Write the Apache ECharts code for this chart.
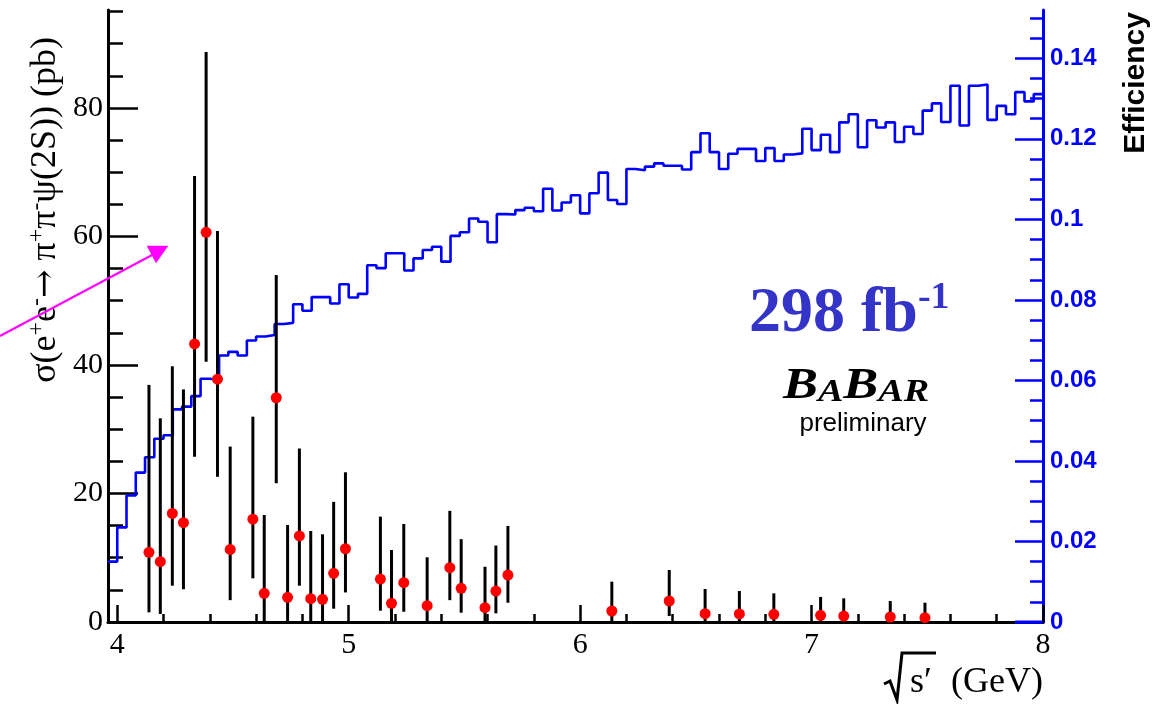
<!DOCTYPE html>
<html>
<head>
<meta charset="utf-8">
<script src="https://cdn.jsdelivr.net/npm/echarts@6/dist/echarts.min.js"></script>
<style>html,body{margin:0;padding:0;background:#fff}#c{width:1160px;height:704px}</style>
</head>
<body>
<div id="c"></div>
<script>
// ---- Data ----
// Efficiency histogram: 101 bins of width 0.04 GeV starting at 3.96 GeV
const histStart = 3.96;
const histBinWidth = 0.04;
const efficiency = [
  0.0150,0.0235,0.0314,0.0371,0.0409,0.0455,0.0464,0.0528,0.0535,0.0561,
  0.0604,0.0601,0.0662,0.0671,0.0662,0.0699,0.0709,0.0713,0.0740,0.0743,
  0.0789,0.0773,0.0807,0.0807,0.0791,0.0839,0.0806,0.0815,0.0886,0.0879,
  0.0916,0.0916,0.0873,0.0903,0.0924,0.0932,0.0895,0.0959,0.0968,0.1002,
  0.0994,0.0943,0.1013,0.1012,0.1023,0.1029,0.1020,0.1076,0.1022,0.1042,
  0.1060,0.1015,0.1065,0.1116,0.1048,0.1038,0.1125,0.1122,0.1131,0.1139,
  0.1133,0.1133,0.1124,0.1167,0.1214,0.1167,0.1125,0.1163,0.1175,0.1175,
  0.1145,0.1177,0.1145,0.1161,0.1164,0.1225,0.1172,0.1210,0.1167,0.1241,
  0.1261,0.1179,0.1246,0.1228,0.1241,0.1192,0.1230,0.1212,0.1270,0.1288,
  0.1242,0.1332,0.1233,0.1332,0.1335,0.1247,0.1282,0.1261,0.1316,0.1293,
  0.1311
];
// Cross section points (pb)
const ptX = [4.137,4.186,4.238,4.286,4.334,4.384,4.433,4.488,4.586,4.635,4.687,4.736,4.787,4.836,4.887,4.935,4.986,
             5.137,5.185,5.238,5.339,5.437,5.486,5.589,5.636,5.688,6.137,6.385,6.540,6.688,6.837,7.039,7.139,7.340,7.490];
const ptY = [10.85,9.39,16.9,15.46,43.27,60.65,37.8,11.3,16.0,4.46,34.9,3.84,13.4,3.63,3.53,7.58,11.4,
             6.69,2.9,6.12,2.54,8.45,5.24,2.23,4.82,7.3,1.71,3.27,1.3,1.25,1.2,1.04,0.93,0.78,0.67];
const errHi = [36.9,31.7,39.8,36.2,69.4,88.7,60.85,27.3,31.96,16.65,54.0,15.1,27.0,14.16,13.65,18.7,23.3,
               16.4,11.2,15.25,10.07,17.3,12.9,8.6,11.9,14.95,6.28,8.1,5.14,4.82,4.46,3.9,3.68,3.27,3.0];
const errLo = [1.5,1.25,5.65,5.1,25.7,40.5,22.6,3.4,6.8,0,21.6,0,5.65,0,0,2.07,4.6,
               1.76,0,1.6,0,3.4,1.45,0,1.35,3.0,0,0.93,0,0,0,0,0,0,0];
// Tick values
const xMajor = [4,5,6,7,8];
const xMinor = [4.2,4.4,4.6,4.8,5.2,5.4,5.6,5.8,6.2,6.4,6.6,6.8,7.2,7.4,7.6,7.8];
const yLeftMajor = [0,20,40,60,80];
const yLeftMinor = [5,10,15,25,30,35,45,50,55,65,70,75,85,90,95];
const yRightMajor = [0,0.02,0.04,0.06,0.08,0.1,0.12,0.14];
const yRightMinor = [0.005,0.01,0.015,0.025,0.03,0.035,0.045,0.05,0.055,0.065,0.07,0.075,0.085,0.09,0.095,
                     0.105,0.11,0.115,0.125,0.13,0.135,0.145,0.15];

// ---- Build series data ----
const histData = efficiency.map((v, i) => [histStart + i * histBinWidth, v]);
histData.push([histStart + efficiency.length * histBinWidth, efficiency[efficiency.length - 1]]);
const pointData = ptX.map((x, i) => [x, ptY[i]]);
const errData = ptX.map((x, i) => [x, errLo[i], errHi[i]]);

const X_MIN = 3.96, X_MAX = 8, YL_MAX = 95.25, YR_MAX = 0.152;
const serif = '"Liberation Serif", "Times New Roman", serif';
const sans = '"Liberation Sans", Arial, sans-serif';

const chart = echarts.init(document.getElementById('c'), null, {renderer: 'canvas'});
chart.setOption({
  animation: false,
  backgroundColor: '#fff',
  grid: {left: 108, right: 117, top: 10, bottom: 82, containLabel: false},
  xAxis: [
    {type: 'value', min: X_MIN, max: X_MAX, position: 'bottom',
     axisLine: {show: true, lineStyle: {color: '#000', width: 3}},
     axisTick: {show: true, inside: true, length: 17, customValues: xMajor, lineStyle: {color: '#000', width: 2.5}},
     axisLabel: {show: true, customValues: xMajor, color: '#000', fontFamily: serif, fontSize: 30, margin: 8},
     splitLine: {show: false}},
    {type: 'value', min: X_MIN, max: X_MAX, position: 'bottom',
     axisLine: {show: false},
     axisTick: {show: true, inside: true, length: 8, customValues: xMinor, lineStyle: {color: '#000', width: 2.5}},
     axisLabel: {show: false}, splitLine: {show: false}},
    {type: 'value', min: X_MIN, max: X_MAX, position: 'top',
     axisLine: {show: true, lineStyle: {color: '#000', width: 2.5}},
     axisTick: {show: false}, axisLabel: {show: false}, splitLine: {show: false}}
  ],
  yAxis: [
    {type: 'value', min: 0, max: YL_MAX, position: 'left',
     axisLine: {show: true, lineStyle: {color: '#000', width: 3}},
     axisTick: {show: true, inside: true, length: 30, customValues: yLeftMajor, lineStyle: {color: '#000', width: 2.5}},
     axisLabel: {show: true, customValues: yLeftMajor, color: '#000', fontFamily: serif, fontSize: 30, margin: 5},
     splitLine: {show: false}},
    {type: 'value', min: 0, max: YL_MAX, position: 'left',
     axisLine: {show: false},
     axisTick: {show: true, inside: true, length: 15, customValues: yLeftMinor, lineStyle: {color: '#000', width: 2.5}},
     axisLabel: {show: false}, splitLine: {show: false}},
    {type: 'value', min: 0, max: YR_MAX, position: 'right',
     axisLine: {show: true, lineStyle: {color: '#0000ff', width: 3}},
     axisTick: {show: true, inside: true, length: 28, customValues: yRightMajor, lineStyle: {color: '#0000ff', width: 2.5}},
     axisLabel: {show: true, customValues: yRightMajor, color: '#0000ff', fontFamily: sans, fontWeight: 'bold', fontSize: 24, margin: 7},
     splitLine: {show: false}},
    {type: 'value', min: 0, max: YR_MAX, position: 'right',
     axisLine: {show: false},
     axisTick: {show: true, inside: true, length: 13, customValues: yRightMinor, lineStyle: {color: '#0000ff', width: 2.5}},
     axisLabel: {show: false}, splitLine: {show: false}}
  ],
  series: [
    {type: 'line', name: 'efficiency', xAxisIndex: 0, yAxisIndex: 2, step: 'end', data: histData,
     showSymbol: false, symbol: 'none', lineStyle: {color: '#0000ff', width: 2.6}, z: 2, clip: true},
    {type: 'custom', name: 'errors', xAxisIndex: 0, yAxisIndex: 0, data: errData, z: 3,
     encode: {x: 0, y: [1, 2]},
     renderItem: function (params, api) {
       const x = api.value(0);
       const p1 = api.coord([x, api.value(1)]);
       const p2 = api.coord([x, api.value(2)]);
       return {type: 'line', shape: {x1: p1[0], y1: p1[1], x2: p2[0], y2: p2[1]},
               style: {stroke: '#000', lineWidth: 3}};
     }},
    {type: 'scatter', name: 'xsec', xAxisIndex: 0, yAxisIndex: 0, data: pointData,
     symbol: 'circle', symbolSize: 11, itemStyle: {color: '#ff0000', opacity: 1}, z: 4}
  ],
  graphic: [
    // left axis title
    {type: 'text', x: 46, y: 210, rotation: Math.PI / 2, z: 10,
     style: {
       text: '{m|σ(e}{s|+}{m|e}{s|-}{ar|→}{m| π}{s|+}{m|π}{s|-}{m|ψ(2S)) (pb)}',
       align: 'center', verticalAlign: 'middle',
       rich: {
         m: {fontFamily: serif, fontSize: 36, fill: '#000', lineHeight: 42},
         ar: {fontFamily: '"DejaVu Serif", serif', fontSize: 34, fill: '#000', lineHeight: 42},
         s: {fontFamily: serif, fontSize: 24, fill: '#000', verticalAlign: 'top', lineHeight: 24}
       }
     }},
    // right axis title
    {type: 'text', x: 1136, y: 83, rotation: Math.PI / 2, z: 10,
     style: {text: 'Efficiency', fontFamily: sans, fontWeight: 'bold', fontSize: 30, fill: '#000',
             align: 'center', verticalAlign: 'middle'}},
    // x axis title with radical
    {type: 'polyline', z: 10, shape: {points: [[884, 684], [890, 681], [897, 700], [902, 653], [936, 653]]},
     style: {stroke: '#000', lineWidth: 3, fill: null}},
    {type: 'text', x: 910, y: 683, z: 10,
     style: {text: 's′', fontFamily: serif, fontSize: 36, fill: '#000', align: 'left', verticalAlign: 'middle'}},
    {type: 'text', x: 1043, y: 683, z: 10,
     style: {text: '(GeV)', fontFamily: serif, fontSize: 36, fill: '#000', align: 'right', verticalAlign: 'middle'}},
    // luminosity
    {type: 'text', x: 749, y: 314, z: 10,
     style: {
       text: '{a|298 fb}{b|-1}', align: 'left', verticalAlign: 'middle',
       rich: {
         a: {fontFamily: serif, fontWeight: 'bold', fontSize: 64, fill: '#3434c8', lineHeight: 70},
         b: {fontFamily: serif, fontWeight: 'bold', fontSize: 38, fill: '#3434c8', verticalAlign: 'top', lineHeight: 38}
       }
     }},
    // BABAR logo
    {type: 'text', x: 783, y: 387, scaleX: 1.19, z: 10,
     style: {
       text: '{B|B}{a|A}{B|B}{a|AR}', align: 'left', verticalAlign: 'middle',
       rich: {
         B: {fontFamily: serif, fontWeight: 'bold', fontStyle: 'italic', fontSize: 44, fill: '#000', lineHeight: 44},
         a: {fontFamily: serif, fontWeight: 'bold', fontStyle: 'italic', fontSize: 32, fill: '#000', verticalAlign: 'bottom', lineHeight: 32}
       }
     }},
    {type: 'text', x: 863, y: 424, z: 10,
     style: {text: 'preliminary', fontFamily: sans, fontSize: 26, fill: '#000', align: 'center', verticalAlign: 'middle'}},
    // magenta arrow
    {type: 'line', z: 10, shape: {x1: 0, y1: 336, x2: 154, y2: 254},
     style: {stroke: '#ff00ff', lineWidth: 2}},
    {type: 'polygon', z: 10, shape: {points: [[146.7, 245.7], [168.3, 245.7], [156, 263.3]]},
     style: {fill: '#ff00ff'}},
    // blue segment on the bottom frame near the right corner
    {type: 'line', z: 10, shape: {x1: 1015, y1: 622, x2: 1042, y2: 622},
     style: {stroke: '#0000ff', lineWidth: 3}}
  ]
});
</script>
</body>
</html>
